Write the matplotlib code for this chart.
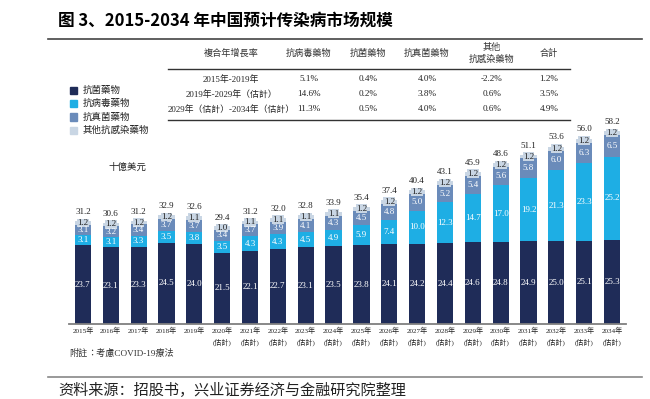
import matplotlib
matplotlib.use("Agg")
import matplotlib.pyplot as plt
from matplotlib.patches import Rectangle
from matplotlib.lines import Line2D
import numpy as np

W, H = 650, 399

years = [f"{y}年" for y in range(2015, 2035)]
est_flag = [False] * 5 + [True] * 15
antibacterial = [23.7, 23.1, 23.3, 24.5, 24.0, 21.5, 22.1, 22.7, 23.1, 23.5,
                 23.8, 24.1, 24.2, 24.4, 24.6, 24.8, 24.9, 25.0, 25.1, 25.3]
antiviral = [3.1, 3.1, 3.3, 3.5, 3.8, 3.5, 4.3, 4.3, 4.5, 4.9,
             5.9, 7.4, 10.0, 12.3, 14.7, 17.0, 19.2, 21.3, 23.3, 25.2]
antifungal = [3.1, 3.2, 3.4, 3.7, 3.7, 3.4, 3.7, 3.9, 4.1, 4.3,
              4.5, 4.8, 5.0, 5.2, 5.4, 5.6, 5.8, 6.0, 6.3, 6.5]
other = [1.2, 1.2, 1.2, 1.2, 1.1, 1.0, 1.1, 1.1, 1.1, 1.1,
         1.2, 1.2, 1.2, 1.2, 1.2, 1.2, 1.2, 1.2, 1.2, 1.2]
totals = [31.2, 30.6, 31.2, 32.9, 32.6, 29.4, 31.2, 32.0, 32.8, 33.9,
          35.4, 37.4, 40.4, 43.1, 45.9, 48.6, 51.1, 53.6, 56.0, 58.2]

series_names = ["抗菌藥物", "抗病毒藥物", "抗真菌藥物", "其他抗感染藥物"]
colors = ["#1f2c58", "#1eaee4", "#6a8bba", "#c9d6e4"]
text_colors = ["white", "white", "white", "#222222"]

# CAGR table
table_header = ["複合年增長率", "抗病毒藥物", "抗菌藥物", "抗真菌藥物", "其他\n抗感染藥物", "合計"]
cagr_periods = ["2015年-2019年", "2019年-2029年（估計）", "2029年（估計）-2034年（估計）"]
cagr_antiviral = ["5.1%", "14.6%", "11.3%"]
cagr_antibacterial = ["0.4%", "0.2%", "0.5%"]
cagr_antifungal = ["4.0%", "3.8%", "4.0%"]
cagr_other = ["-2.2%", "0.6%", "0.6%"]
cagr_total = ["1.2%", "3.5%", "4.9%"]

CJK = ["Noto Sans CJK TC", "DejaVu Sans"]
SERIF = ["Liberation Serif", "Noto Sans CJK TC"]


def fx(x):
    return x / W


def fy(y):
    return 1 - y / H


fig = plt.figure(figsize=(6.5, 3.99), dpi=100)
ax = fig.add_axes([fx(69), fy(324), (626 - 69) / W, 199 / H])

x = np.arange(len(years))
stack = [antibacterial, antiviral, antifungal, other]
bottom = np.zeros(len(years))
for vals, col, tcol in zip(stack, colors, text_colors):
    vals = np.array(vals)
    ax.bar(x, vals, bottom=bottom, width=0.58, color=col, zorder=2)
    light = col == colors[3]
    for xi, b, v in zip(x, bottom, vals):
        kw = {}
        if light:
            kw["bbox"] = dict(facecolor=col, edgecolor="none", pad=0.2)
        ax.text(xi, b + v / 2, f"{v:.1f}", ha="center", va="center",
                fontsize=6.5, family=SERIF, color=tcol,
                zorder=2.5 if light else 4, **kw)
    bottom += vals

for xi, t in zip(x, totals):
    ax.annotate(f"{t:.1f}", (xi, t), xytext=(0, 3.5), textcoords="offset points",
                ha="center", va="bottom", fontsize=6.5, family=SERIF, color="#222222")

ax.set_xlim(-0.5, 19.5)
ax.set_ylim(0, 60)
for s in ["top", "right", "left"]:
    ax.spines[s].set_visible(False)
ax.spines["bottom"].set_color("#7f7f7f")
ax.spines["bottom"].set_linewidth(1.3)
ax.set_yticks([])
ax.set_xticks(x)
ax.set_xticklabels([y + ("\n(估計)" if e else "") for y, e in zip(years, est_flag)],
                   fontsize=5.1, family=SERIF, color="#222222")
for lbl in ax.get_xticklabels():
    lbl.set_linespacing(1.7)
ax.tick_params(axis="x", length=0, pad=2)

# title and rules
fig.text(fx(58), fy(21), "图 3、2015-2034 年中国预计传染病市场规模", fontsize=12,
         fontweight="bold", family=["Noto Sans CJK SC", "DejaVu Sans"], va="center", ha="left")
fig.add_artist(Line2D([fx(48), fx(642)], [fy(38.5), fy(38.5)], color="#444444", lw=1.2))
fig.add_artist(Line2D([fx(48), fx(642)], [fy(377), fy(377)], color="#888888", lw=1.2))
fig.text(fx(58), fy(390), "资料来源：招股书，兴业证券经济与金融研究院整理", fontsize=10.9,
         family=["Noto Sans CJK SC", "DejaVu Sans"], va="center", ha="left", color="#222222")

# legend
for i, (name, col) in enumerate(zip(series_names, colors)):
    yy = 90 + i * 13.5
    fig.add_artist(Rectangle((fx(69.5), fy(yy + 3.5)), 7 / W, 7 / H, color=col))
    fig.text(fx(82.5), fy(yy), name, fontsize=6.8, family=CJK, va="center", ha="left", color="#222222")
fig.text(fx(127), fy(167), "十億美元", fontsize=6.8, family=CJK, va="center", ha="center", color="#222222")

# CAGR table
col_x = [231, 309, 368, 427, 492, 549]
row_y = [79.3, 94, 109]
for cx, h in zip(col_x, table_header):
    fig.text(fx(cx), fy(53.5), h, fontsize=6.6, family=CJK, ha="center", va="center",
             color="#333333", linespacing=1.4)
cols = [cagr_periods, cagr_antiviral, cagr_antibacterial, cagr_antifungal, cagr_other, cagr_total]
for ci, (cx, vals) in enumerate(zip(col_x, cols)):
    for ry, v in zip(row_y, vals):
        fig.text(fx(cx), fy(ry), v, fontsize=6.6 if ci else 6.4, family=SERIF,
                 ha="center", va="center", color="#222222")
for ly in (69.3, 120):
    fig.add_artist(Line2D([fx(168), fx(570)], [fy(ly), fy(ly)], color="#333333", lw=1.0))

# footnote
fig.text(fx(69), fy(353), "附註", fontsize=6.6, family=CJK, style="italic",
         va="center", ha="left", color="#333333")
fig.text(fx(87), fy(353), "：考慮COVID-19療法", fontsize=6.6, family=SERIF,
         va="center", ha="left", color="#333333")

fig.savefig("out.png", dpi=100)
